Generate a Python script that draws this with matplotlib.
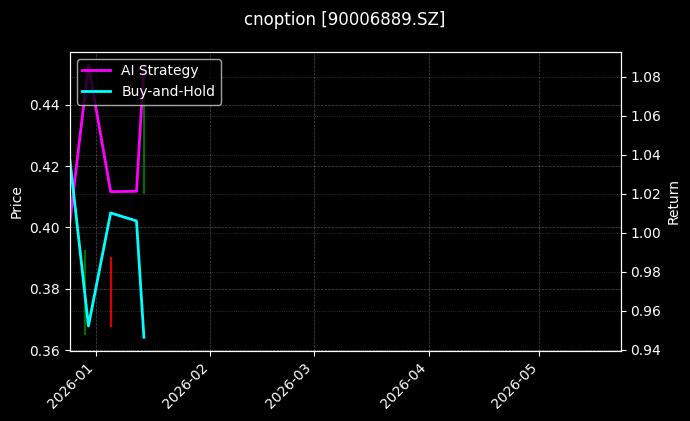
import matplotlib
matplotlib.use('Agg')
import matplotlib.pyplot as plt
import matplotlib.dates as mdates
import pandas as pd

plt.style.use('dark_background')

# Price bars (high-low), drawn on the left axis
candle_dates = pd.to_datetime(['2025-12-29', '2026-01-05', '2026-01-14'])
candle_low = [0.3649, 0.3676, 0.4110]
candle_high = [0.3925, 0.3903, 0.4529]
candle_colors = ['green', 'red', 'green']

# Cumulative return curves, drawn on the right axis
ret_dates = pd.to_datetime(['2025-12-25', '2025-12-30', '2026-01-05', '2026-01-12', '2026-01-14'])
ai_returns = [1.0060, 1.0860, 1.0211, 1.0213, 1.0850]
bh_returns = [1.0370, 0.9523, 1.0102, 1.0061, 0.9465]

title = 'cnoption [90006889.SZ]'

fig, ax1 = plt.subplots(figsize=(6.9, 4.21), dpi=100)
fig.subplots_adjust(left=0.1014, right=0.8996, bottom=0.167, top=0.877)

# candles
ax1.vlines(candle_dates, candle_low, candle_high, colors=candle_colors, linewidth=1.6, alpha=0.85)
ax1.set_ylabel('Price')
ax1.set_ylim(0.3598, 0.4573)
ax1.grid(True, linestyle='--', linewidth=0.5, alpha=0.3)

# returns on twin axis
ax2 = ax1.twinx()
ax2.plot(ret_dates, ai_returns, color='magenta', linewidth=2, label='AI Strategy')
ax2.plot(ret_dates, bh_returns, color='cyan', linewidth=2, label='Buy-and-Hold')
ax2.set_ylabel('Return')
ax2.set_ylim(0.9396, 1.0928)
ax2.grid(True, linestyle=':', linewidth=0.5, alpha=0.3)
ax2.legend(loc='upper left')

ax1.set_xlim(pd.Timestamp('2025-12-25'), pd.Timestamp('2026-05-23'))
ax1.xaxis.set_major_locator(mdates.MonthLocator())
ax1.xaxis.set_major_formatter(mdates.DateFormatter('%Y-%m'))
plt.setp(ax1.get_xticklabels(), rotation=45, ha='right')

fig.suptitle(title, fontsize=12, y=0.975)

plt.savefig('out.png', dpi=100)
